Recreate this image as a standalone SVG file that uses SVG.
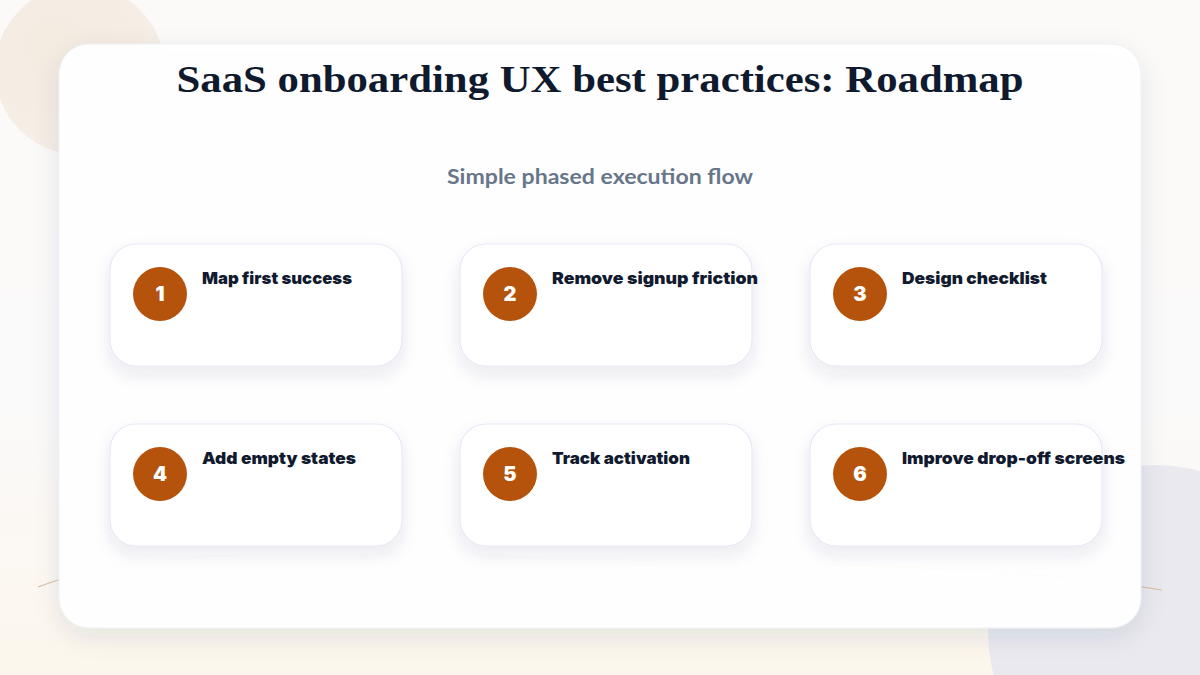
<svg xmlns="http://www.w3.org/2000/svg" width="1200" height="675" viewBox="0 0 1200 675">
  <defs>
    <linearGradient id="bg" x1="0" y1="0" x2="0" y2="1">
      <stop offset="0" stop-color="#fbfaf8"/>
      <stop offset="0.6" stop-color="#fbfafa"/>
      <stop offset="1" stop-color="#fcf6ec"/>
    </linearGradient>
    <radialGradient id="blob1" cx="0.35" cy="0.35" r="0.7">
      <stop offset="0" stop-color="#f4ebe1"/>
      <stop offset="1" stop-color="#f6efe7"/>
    </radialGradient>
    <filter id="cardShadow" x="-10%" y="-10%" width="120%" height="125%">
      <feDropShadow dx="0" dy="8" stdDeviation="12" flood-color="#1e2a50" flood-opacity="0.10"/>
    </filter>
    <filter id="nodeShadow" x="-15%" y="-20%" width="130%" height="160%">
      <feDropShadow dx="0" dy="8" stdDeviation="8" flood-color="#283c78" flood-opacity="0.10"/>
    </filter>
    <style>
      .node-box { fill: #ffffff; stroke: #e4e9f4; stroke-width: 1.2; filter: url(#nodeShadow); }
      .badge { fill: #b5530c; }
      .badge-num { font-family: Inter, Lato, "Noto Sans", sans-serif; font-weight: 900; font-size: 20px; fill: #ffffff; text-anchor: middle; }
      .label { font-family: Inter, Lato, "Noto Sans", sans-serif; font-weight: 900; font-size: 16.5px; fill: #111a2e; }
      .title { font-family: "Liberation Serif", "DejaVu Serif", serif; font-weight: bold; font-size: 38px; fill: #0f1a2e; }
      .subtitle { font-family: Lato, "Noto Sans", sans-serif; font-weight: 700; font-size: 21px; fill: #687689; }
    </style>
  </defs>

  <!-- background -->
  <rect x="0" y="0" width="1200" height="675" fill="url(#bg)"/>
  <circle cx="80" cy="70" r="85" fill="url(#blob1)"/>
  <circle cx="1155" cy="632" r="167" fill="#e9e9ef"/>
  <path d="M38,587 C120,555 260,548 480,556 C760,566 980,560 1162,590" fill="none" stroke="#d8bfa6" stroke-width="1.2"/>

  <!-- main card -->
  <rect x="59" y="44" width="1082" height="584" rx="30" fill="#ffffff" fill-opacity="0.96" stroke="#eceff5" stroke-width="1" filter="url(#cardShadow)"/>

  <text class="title" x="600" y="92" text-anchor="middle" textLength="847" lengthAdjust="spacingAndGlyphs">SaaS onboarding UX best practices: Roadmap</text>
  <text class="subtitle" x="600" y="184" text-anchor="middle" textLength="306" lengthAdjust="spacingAndGlyphs">Simple phased execution flow</text>

  <g id="connectors"></g>

  <g id="node1">
    <rect class="node-box" x="110" y="244" width="292" height="122" rx="26"/>
    <circle class="badge" cx="160" cy="294" r="27"/>
    <text class="badge-num" x="160" y="301">1</text>
    <text class="label" x="202" y="284" textLength="150" lengthAdjust="spacingAndGlyphs">Map first success</text>
  </g>
  <g id="node2">
    <rect class="node-box" x="460" y="244" width="292" height="122" rx="26"/>
    <circle class="badge" cx="510" cy="294" r="27"/>
    <text class="badge-num" x="510" y="301">2</text>
    <text class="label" x="552" y="284" textLength="206" lengthAdjust="spacingAndGlyphs">Remove signup friction</text>
  </g>
  <g id="node3">
    <rect class="node-box" x="810" y="244" width="292" height="122" rx="26"/>
    <circle class="badge" cx="860" cy="294" r="27"/>
    <text class="badge-num" x="860" y="301">3</text>
    <text class="label" x="902" y="284" textLength="145" lengthAdjust="spacingAndGlyphs">Design checklist</text>
  </g>
  <g id="node4">
    <rect class="node-box" x="110" y="424" width="292" height="122" rx="26"/>
    <circle class="badge" cx="160" cy="474" r="27"/>
    <text class="badge-num" x="160" y="481">4</text>
    <text class="label" x="202" y="464" textLength="154" lengthAdjust="spacingAndGlyphs">Add empty states</text>
  </g>
  <g id="node5">
    <rect class="node-box" x="460" y="424" width="292" height="122" rx="26"/>
    <circle class="badge" cx="510" cy="474" r="27"/>
    <text class="badge-num" x="510" y="481">5</text>
    <text class="label" x="552" y="464" textLength="138" lengthAdjust="spacingAndGlyphs">Track activation</text>
  </g>
  <g id="node6">
    <rect class="node-box" x="810" y="424" width="292" height="122" rx="26"/>
    <circle class="badge" cx="860" cy="474" r="27"/>
    <text class="badge-num" x="860" y="481">6</text>
    <text class="label" x="902" y="464" textLength="223" lengthAdjust="spacingAndGlyphs">Improve drop-off screens</text>
  </g>
</svg>
